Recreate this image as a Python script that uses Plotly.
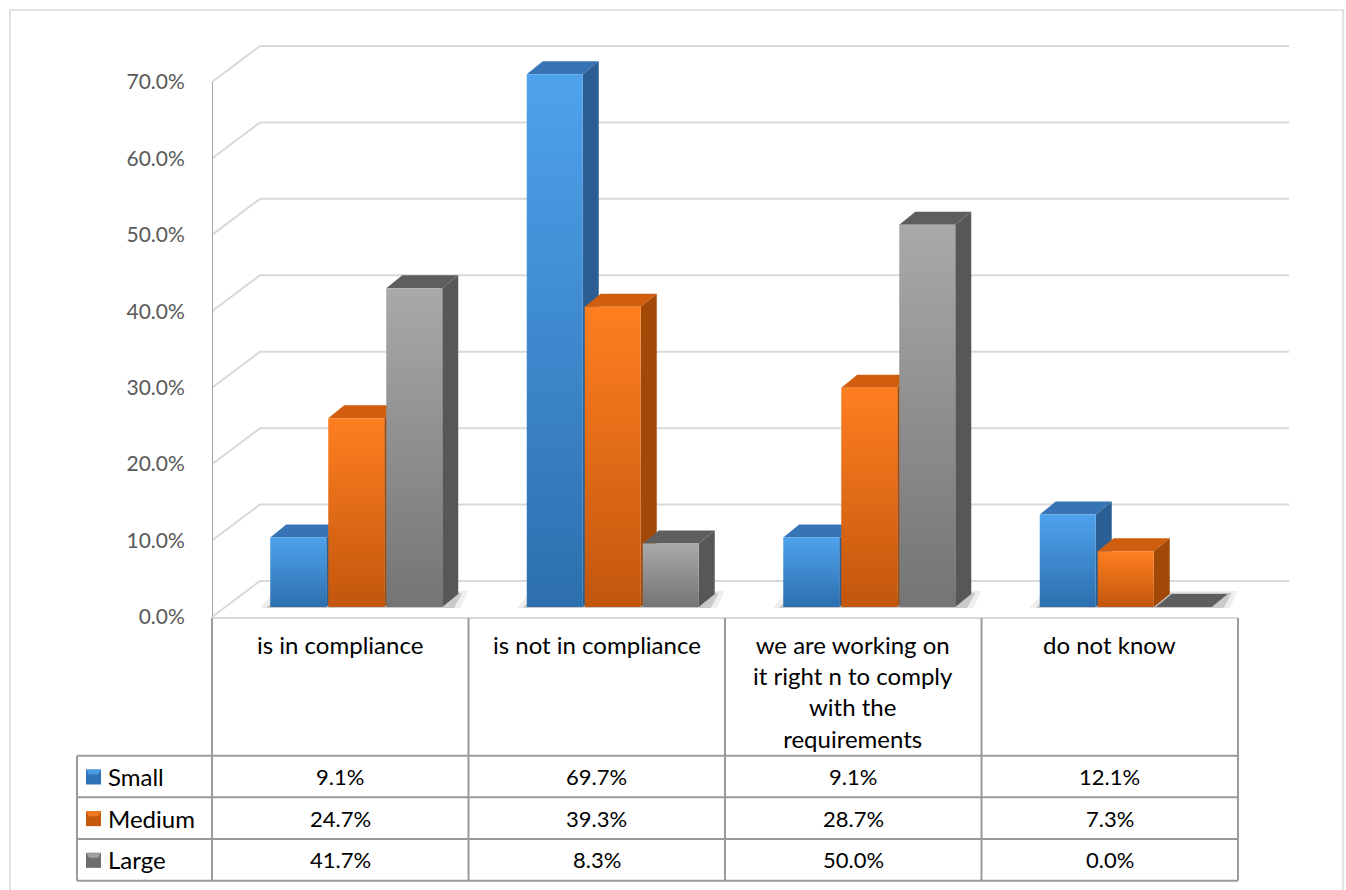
import plotly.graph_objects as go

# ---------------- data ----------------
categories = ["is in compliance", "is not in compliance",
              "we are working on<br>it right n to comply<br>with the<br>requirements",
              "do not know"]
series_names = ["Small", "Medium", "Large"]
small = [9.1, 69.7, 9.1, 12.1]
medium = [24.7, 39.3, 28.7, 7.3]
large = [41.7, 8.3, 50.0, 0.0]
y_ticks = [0, 10, 20, 30, 40, 50, 60, 70]
y_tick_labels = [f"{v:.1f}%" for v in y_ticks]

# ---------------- styling / geometry ----------------
FONT = "Lato"
W, H = 1346, 890
PL, PR, PT, PB = 212, 1300, 30, 621      # plot area in pixels
PX_X = 256.5                              # pixels per category
PX_Y = 7.643                              # pixels per percent
Y0_PX = 617                               # pixel row of y=0 (front plane)
XMAX = (PR - PL) / PX_X
YMIN = -(PB - Y0_PX) / PX_Y
YMAX = (Y0_PX - PT) / PX_Y


def dx(px):
    return px / PX_X


def dy(px):
    return px / PX_Y


def paper_x(px):
    return (px - PL) / (PR - PL)


def paper_y(py):
    return (PB - py) / (PB - PT)


def x_to_px(x):
    return PL + x * PX_X


BX, BY = dx(48), dy(36)          # back wall offset
GRID_END = dx(1289 - PL)
SX, SY = dx(16), dy(10)          # bar plane offset
BW, BP = dx(56), dx(58)          # bar width, pitch
DX, DY = dx(16), dy(13)          # bar depth

styles = [
    dict(front=["#2d6fae", "#4ea2ec"], side="#2b5e92", top="#3674b6"),
    dict(front=["#c2560d", "#ff7f20"], side="#a34908", top="#d05e0e"),
    dict(front=["#747474", "#a9a9a9"], side="#575757", top="#5e5e5e"),
]
values = [small, medium, large]

fig = go.Figure()

# gridlines (front -> back wall)
for v in y_ticks:
    fig.add_trace(go.Scatter(
        x=[0, BX, GRID_END], y=[v, v + BY, v + BY], mode="lines",
        line=dict(color="#d9d9d9", width=2), hoverinfo="skip", showlegend=False))

# vertical axis line
fig.add_trace(go.Scatter(x=[0, 0], y=[0, y_ticks[-1]], mode="lines",
                         line=dict(color="#a6a6a6", width=2),
                         hoverinfo="skip", showlegend=False))

# floor shadows (soft, two layers)
for i in range(len(categories)):
    for grow, alpha in [(10, 0.08), (4, 0.18)]:
        xa = i + 0.5 + SX - BP - BW / 2 - dx(grow)
        xb = i + 0.5 + SX + BP + BW / 2 + DX + dx(grow)
        y_lo, y_hi = SY - dy(1), SY + DY + dy(grow * 0.3)
        fig.add_trace(go.Scatter(
            x=[xa, xb - dx(8), xb, xa + dx(14), xa],
            y=[y_lo, y_lo, y_hi, y_hi, y_lo],
            mode="lines", fill="toself", fillcolor=f"rgba(40,40,40,{alpha})",
            line=dict(width=0), hoverinfo="skip", showlegend=False))

# bars (3D look)
for i in range(len(categories)):
    for j, vals in enumerate(values):
        v = vals[i]
        st = styles[j]
        x0 = i + 0.5 + SX + (j - 1) * BP - BW / 2
        x1 = x0 + BW
        yb, yt = SY, SY + v
        # top face
        fig.add_trace(go.Scatter(
            x=[x0, x1, x1 + DX, x0 + DX, x0], y=[yt, yt, yt + DY, yt + DY, yt],
            mode="lines", fill="toself", fillcolor=st["top"],
            line=dict(width=0), hoverinfo="skip", showlegend=False))
        if v > 0:
            # side face
            fig.add_trace(go.Scatter(
                x=[x1, x1 + DX, x1 + DX, x1, x1], y=[yb, yb + DY, yt + DY, yt, yb],
                mode="lines", fill="toself", fillcolor=st["side"],
                line=dict(width=0), hoverinfo="skip", showlegend=False))
            # front face
            fig.add_trace(go.Scatter(
                x=[x0, x1, x1, x0, x0], y=[yb, yb, yt, yt, yb],
                mode="lines", fill="toself",
                fillgradient=dict(type="vertical",
                                  colorscale=[[0, st["front"][0]], [1, st["front"][1]]]),
                line=dict(width=0), name=series_names[j],
                hovertemplate=f"{series_names[j]}: {v:.1f}%<extra></extra>",
                showlegend=False))

# ---------------- data table ----------------
shapes = []
ann = []
GRID_C = "#9a9a9a"
HEAD_TOP = 617
ROW_Y = [755.7, 797.3, 839.0, 880.7]
LEG_LEFT = 77
COL_PX = [x_to_px(i) for i in range(len(categories) + 1)]

# frame around chart
shapes.append(dict(type="rect", xref="paper", yref="paper",
                   x0=paper_x(10), x1=paper_x(1343), y0=paper_y(900), y1=paper_y(10),
                   line=dict(color="#d9d9d9", width=1.5), fillcolor="rgba(0,0,0,0)"))
# category axis line
shapes.append(dict(type="line", xref="paper", yref="paper",
                   x0=paper_x(COL_PX[0]), x1=paper_x(COL_PX[-1]),
                   y0=paper_y(HEAD_TOP + 1), y1=paper_y(HEAD_TOP + 1),
                   line=dict(color="#d9d9d9", width=2)))
# vertical table lines
for k, cx in enumerate(COL_PX):
    shapes.append(dict(type="line", xref="paper", yref="paper",
                       x0=paper_x(cx), x1=paper_x(cx),
                       y0=paper_y(HEAD_TOP + 1), y1=paper_y(ROW_Y[-1]),
                       line=dict(color=GRID_C, width=2)))
shapes.append(dict(type="line", xref="paper", yref="paper",
                   x0=paper_x(LEG_LEFT), x1=paper_x(LEG_LEFT),
                   y0=paper_y(ROW_Y[0]), y1=paper_y(ROW_Y[-1]),
                   line=dict(color=GRID_C, width=2)))
# horizontal table lines
for ry in ROW_Y:
    shapes.append(dict(type="line", xref="paper", yref="paper",
                       x0=paper_x(LEG_LEFT), x1=paper_x(COL_PX[-1]),
                       y0=paper_y(ry), y1=paper_y(ry),
                       line=dict(color=GRID_C, width=2)))

# header texts
for i, c in enumerate(categories):
    ann.append(dict(x=paper_x(x_to_px(i + 0.5)), y=paper_y(628), xref="paper", yref="paper",
                    text=c, showarrow=False, xanchor="center", yanchor="top",
                    font=dict(family=FONT, size=24, color="#000000"), align="center"))

# rows
icon_cols = [("#2f72b8", "#4a9be2"), ("#c55a0e", "#f07a22"), ("#6e6e6e", "#a0a0a0")]
for j, name in enumerate(series_names):
    cy = (ROW_Y[j] + ROW_Y[j + 1]) / 2
    shapes.append(dict(type="rect", xref="paper", yref="paper",
                       x0=paper_x(86), x1=paper_x(101), y0=paper_y(cy + 8), y1=paper_y(cy - 7),
                       fillcolor=icon_cols[j][0], line=dict(width=0)))
    shapes.append(dict(type="path", xref="paper", yref="paper",
                       path=f"M {paper_x(86)},{paper_y(cy - 7)} L {paper_x(101)},{paper_y(cy - 7)} "
                            f"L {paper_x(98)},{paper_y(cy - 2)} L {paper_x(89)},{paper_y(cy - 2)} Z",
                       fillcolor=icon_cols[j][1], line=dict(width=0)))
    ann.append(dict(x=paper_x(106), y=paper_y(cy), xref="paper", yref="paper",
                    text=name, showarrow=False, xanchor="left", yanchor="middle",
                    font=dict(family=FONT, size=24, color="#000000")))
    for i in range(len(categories)):
        ann.append(dict(x=paper_x(x_to_px(i + 0.5)), y=paper_y(cy), xref="paper", yref="paper",
                        text=f"{values[j][i]:.1f}%", showarrow=False,
                        xanchor="center", yanchor="middle",
                        font=dict(family=FONT, size=22, color="#000000")))

fig.update_layout(
    width=W, height=H,
    margin=dict(l=PL, r=W - PR, t=PT, b=H - PB, autoexpand=False),
    paper_bgcolor="white", plot_bgcolor="rgba(0,0,0,0)",
    showlegend=False,
    xaxis=dict(range=[0, XMAX], visible=False, fixedrange=True),
    yaxis=dict(range=[YMIN, YMAX], tickvals=y_ticks, ticktext=y_tick_labels,
               showgrid=False, zeroline=False, showline=False,
               ticks="outside", ticklen=22, tickcolor="rgba(0,0,0,0)",
               tickfont=dict(family=FONT, size=21, color="#595959"), fixedrange=True),
    shapes=shapes, annotations=ann,
)

fig.write_html("out.html")
